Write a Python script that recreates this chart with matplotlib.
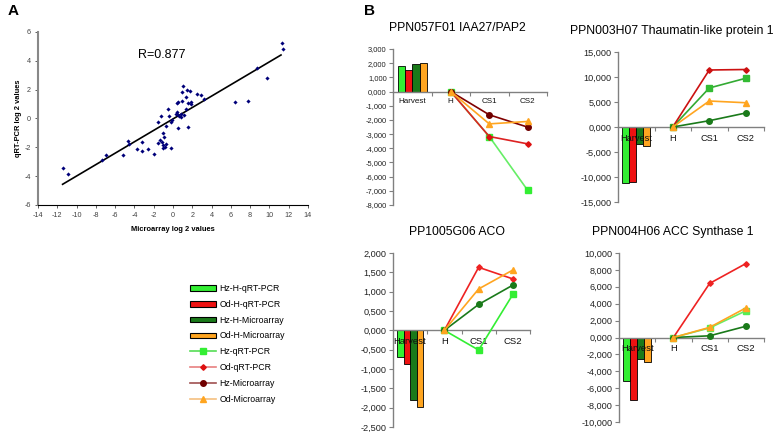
import matplotlib
matplotlib.use("Agg")
import matplotlib.pyplot as plt
from matplotlib.ticker import FuncFormatter, MultipleLocator
from matplotlib.patches import Patch
from matplotlib.lines import Line2D

plt.rcParams["font.family"] = ["Liberation Sans", "DejaVu Sans"]
plt.rcParams["axes.unicode_minus"] = False

# ---- panel A data ----
micro_x = [-11.45, -10.9, -7.4, -6.97, -5.2, -4.7, -4.55, -3.76, -3.2, -3.2, -2.6, -1.97,
           -1.6, -1.6, -1.28, -1.38, -1.17, -1.07, -1.03, -1.0, -0.93, -0.76, -0.76, -0.83,
           -0.52, -0.41, -0.2, -0.17, -0.07, 0.28, 0.38, 0.45, 0.5, 0.4, 0.6, 0.55, 0.8,
           0.8, 0.9, 0.97, 1.03, 1.14, 1.3, 1.38, 1.48, 1.59, 1.55, 1.72, 1.83, 1.9, 2.45,
           2.86, 3.2, 6.38, 7.76, 8.66, 9.76, 11.3, 11.4]
qrt_y = [-3.43, -3.83, -2.9, -2.5, -2.52, -1.57, -1.75, -2.1, -1.66, -2.22, -2.1, -2.45,
         -0.26, -1.68, 0.19, -1.52, -1.64, -1.87, -0.98, -2.03, -1.28, -0.51, -1.75, -1.99,
         0.65, 0.19, -2.03, -0.21, -0.12, 0.3, 1.1, 0.3, 1.14, 0.47, 0.19, -0.63, 0.3,
         0.07, 1.82, 1.24, 2.22, 0.26, 1.52, 0.65, 1.99, -0.58, 1.05, 1.89, 1.0, 1.12, 1.7,
         1.64, 1.33, 1.17, 1.21, 3.5, 2.8, 5.25, 4.8]
fit_slope = 0.396
fit_intercept = -0.03
fit_x = [-11.45, 11.2]
r_text = "R=0.877"

# ---- panel B data ----
cats = ["Harvest", "H", "CS1", "CS2"]
bar_names = ["Hz-H-qRT-PCR", "Od-H-qRT-PCR", "Hz-H-Microarray", "Od-H-Microarray"]
line_names = ["Hz-qRT-PCR", "Od-qRT-PCR", "Hz-Microarray", "Od-Microarray"]

titles = ["PPN057F01 IAA27/PAP2", "PPN003H07 Thaumatin-like protein 1",
          "PP1005G06 ACO", "PPN004H06 ACC Synthase 1"]

# bars at Harvest: Hz-H-qRT, Od-H-qRT, Hz-H-Micro, Od-H-Micro
bars_1 = [1.83, 1.53, 1.95, 2.04]
bars_2 = [-11.2, -10.9, -3.4, -3.7]
bars_3 = [-0.68, -0.88, -1.79, -1.97]
bars_4 = [-5.16, -7.38, -2.58, -2.89]

# lines at H, CS1, CS2: Hz-qRT, Od-qRT, Hz-Micro, Od-Micro
lines_1 = [[0, -3.17, -6.97], [0, -3.17, -3.69], [0, -1.64, -2.51], [0, -2.28, -2.11]]
lines_2 = [[0, 7.8, 9.75], [0, 11.4, 11.5], [0, 1.26, 2.8], [0, 5.2, 4.85]]
lines_3 = [[0, -0.51, 0.93], [0, 1.63, 1.33], [0, 0.67, 1.17], [0, 1.07, 1.56]]
lines_4 = [[0, 1.13, 3.16], [0, 6.4, 8.75], [0, 0.2, 1.33], [0, 1.2, 3.5]]

W, H = 776, 432
fig = plt.figure(figsize=(W / 100, H / 100), dpi=100)


def px_axes(l, t, r, b):
    return fig.add_axes([l / W, 1 - b / H, (r - l) / W, (b - t) / H])


# ---------------- panel A ----------------
ax = px_axes(38, 32, 308, 205)
ax.scatter(micro_x, qrt_y, marker="D", s=4.5, color="#00007a", zorder=3, linewidths=0)
fx = [fit_x[0], fit_x[1]]
ax.plot(fx, [fit_slope * v + fit_intercept for v in fx], color="black", lw=1.2)
ax.text(-1.2, 4.4, r_text, fontsize=9, ha="center", va="center")
ax.set_xlim(-14, 14)
ax.set_ylim(-6, 6)
ax.xaxis.set_major_locator(MultipleLocator(2))
ax.yaxis.set_major_locator(MultipleLocator(2))
for s in ["top", "right"]:
    ax.spines[s].set_visible(False)
ax.spines["left"].set_color("#888888")
ax.spines["left"].set_linewidth(1.5)
ax.spines["bottom"].set_linewidth(0.8)
ax.tick_params(labelsize=5.2, length=2, width=0.6, colors="#444444", pad=3)
ax.set_xlabel("Microarray log 2 values", fontsize=5.4, fontweight="bold", labelpad=5)
ax.set_ylabel("qRT-PCR log 2 values", fontsize=5.4, fontweight="bold", labelpad=2)

fig.text(8 / W, 1 - 11 / H, "A", fontsize=11, fontweight="bold", va="center")
fig.text(364 / W, 1 - 11 / H, "B", fontsize=11, fontweight="bold", va="center")

# ---------------- panel B ----------------
bar_colors = ["#33ee33", "#ee1111", "#1a7a1a", "#ffa520"]
styles = {
    0: [("#66ee66", "#33ee33", "s"), ("#dd2222", "#dd1111", "D"),
        ("#800000", "#700000", "o"), ("#ffa520", "#ffa520", "^")],
    1: [("#33aa33", "#33bb33", "s"), ("#cc1111", "#cc1111", "D"),
        ("#1a7a1a", "#1a7a1a", "o"), ("#ffa520", "#ffa520", "^")],
    2: [("#33ee33", "#33ee33", "s"), ("#ee2222", "#ee2222", "D"),
        ("#1a7a1a", "#1a7a1a", "o"), ("#ffa520", "#ffa520", "^")],
    3: [("#66ee66", "#55ee55", "s"), ("#ee2222", "#ee2222", "D"),
        ("#1a7a1a", "#1a7a1a", "o"), ("#ffa520", "#ffa520", "^")],
}
msize = {"s": 4.2, "D": 2.8, "o": 4, "^": 4.5}

panels = [
    dict(box=(393, 49, 547, 205), lim=(-8, 3), step=1, bars=bars_1, lines=lines_1,
         fs=5.4, cfs=5.8, tx=457),
    dict(box=(618, 52, 764, 202), lim=(-15, 15), step=5, bars=bars_2, lines=lines_2,
         fs=6.6, cfs=6.6, tx=672),
    dict(box=(393, 253, 530, 427), lim=(-2.5, 2), step=0.5, bars=bars_3, lines=lines_3,
         fs=6.6, cfs=6.8, tx=457),
    dict(box=(619, 253, 764, 422), lim=(-10, 10), step=2, bars=bars_4, lines=lines_4,
         fs=6.6, cfs=6.8, tx=673),
]

fmt = FuncFormatter(lambda v, p: ("%.3f" % v).replace(".", ","))
offsets = [-0.285, -0.095, 0.095, 0.285]

for i, p in enumerate(panels):
    ax = px_axes(*p["box"])
    ax.set_axisbelow(False)
    for j in range(4):
        ax.bar(0 + offsets[j], p["bars"][j], width=0.19, color=bar_colors[j],
               edgecolor="black", linewidth=0.6, zorder=2)
    for j in range(4):
        lc, mc, mk = styles[i][j]
        ax.plot([1, 2, 3], p["lines"][j], color=lc, lw=1.2, marker=mk,
                markersize=msize[mk], markerfacecolor=mc, markeredgecolor=mc, zorder=3)
    ax.set_xlim(-0.5, 3.5)
    ax.set_ylim(*p["lim"])
    ax.yaxis.set_major_locator(MultipleLocator(p["step"]))
    ax.yaxis.set_major_formatter(fmt)
    ax.set_xticks(range(4))
    ax.set_xticklabels(cats)
    ax.set_xticks([0.5, 1.5, 2.5, 3.5], minor=True)
    ax.spines["bottom"].set_position(("data", 0))
    for s in ["top", "right"]:
        ax.spines[s].set_visible(False)
    for s in ["left", "bottom"]:
        ax.spines[s].set_color("#808080")
        ax.spines[s].set_linewidth(1.0)
    ax.tick_params(axis="y", labelsize=p["fs"], length=3, width=0.8,
                   color="#808080", labelcolor="#222222", pad=1.5)
    ax.tick_params(axis="x", which="major", length=0, labelsize=p["cfs"],
                   labelcolor="#111111", pad=5)
    ax.tick_params(axis="x", which="minor", length=3, width=0.8, color="#808080")
    l, t, r, b = p["box"]
    fig.text(p["tx"] / W, 1 - (t - 21) / H, titles[i], fontsize=8.8,
             ha="center", va="center")

# ---------------- legend ----------------
handles = [Patch(facecolor=c, edgecolor="black", linewidth=0.8) for c in bar_colors]
leg_lines = [("#55dd55", "#33ee33", "s"), ("#e88080", "#dd1111", "D"),
             ("#a05050", "#700000", "o"), ("#f5c080", "#ffa520", "^")]
for lc, mc, mk in leg_lines:
    handles.append(Line2D([], [], color=lc, lw=1.2, marker=mk, markersize=msize[mk],
                          markerfacecolor=mc, markeredgecolor=mc))
fig.legend(handles, bar_names + line_names, loc="upper left",
           bbox_to_anchor=(190 / W, 1 - 284 / H), frameon=False, fontsize=6.3,
           handlelength=3.0, handleheight=0.6, handletextpad=0.35, labelspacing=0.78,
           borderpad=0, borderaxespad=0)

fig.savefig("out.png", dpi=100)
